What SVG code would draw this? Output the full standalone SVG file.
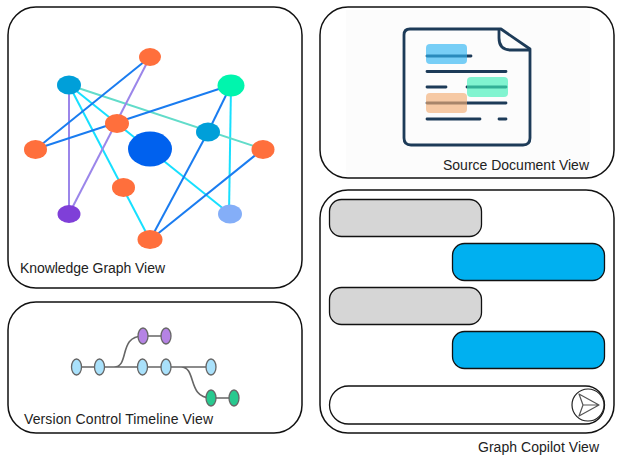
<svg xmlns="http://www.w3.org/2000/svg" width="624" height="460" viewBox="0 0 624 460">
<style>
.panel{fill:#fff;stroke:#111;stroke-width:1.5}
.lbl{font-family:"Liberation Sans",Arial,sans-serif;font-size:14px;fill:#222}
.e{fill:none;stroke-width:2}
.b{stroke:#1a7cf0}.p{stroke:#9b86ea}.c{stroke:#17e0ff}.t{stroke:#62dcca}
.o{fill:#ff6f3c}
.doc{fill:none;stroke:#1d3b58;stroke-width:2.8;stroke-linecap:round;stroke-linejoin:round}
.tl{fill:none;stroke:#666;stroke-width:1.6}
.cm{stroke:#666;stroke-width:1.3}
.lb{fill:#a9e1fb}.pu{fill:#b583e4}.gr{fill:#28c98f}
.bub{stroke:#111;stroke-width:1.3}
</style>
<rect width="624" height="460" fill="#fff"/>
<g id="panels">
<rect id="knowledge-graph-panel" class="panel" x="8" y="7" width="294" height="281" rx="28"/>
<rect id="version-timeline-panel" class="panel" x="8" y="302" width="294" height="131" rx="28"/>
</g>
<g id="connectors">
<line class="e c" x1="69" y1="85" x2="230" y2="214"/>
<line class="e c" x1="69" y1="85" x2="150" y2="240"/>
<line class="e c" x1="231" y1="85" x2="229" y2="214"/>
<line class="e t" x1="69" y1="85" x2="263" y2="149"/>
<line class="e p" x1="69" y1="85" x2="69" y2="214"/>
<line class="e p" x1="150" y1="57" x2="69" y2="214"/>
<line class="e b" x1="150" y1="57" x2="36" y2="149"/>
<line class="e b" x1="36" y1="149" x2="231" y2="85"/>
<line class="e b" x1="231" y1="85" x2="208" y2="132"/>
<line class="e b" x1="208" y1="132" x2="150" y2="240"/>
<line class="e b" x1="263" y1="149" x2="150" y2="240"/>
<path class="tl" d="M76.500 367H211M114 367C130 367 118 336 143 336H166M181 367C197 367 187 398 211 398H234"/>
</g>
<g id="kg-nodes">
<ellipse id="n1" class="o" cx="150" cy="57" rx="11" ry="9"/>
<ellipse id="n2" cx="69" cy="85" rx="12" ry="9.500" fill="#009fd9"/>
<ellipse id="n3" cx="231" cy="85.500" rx="13.500" ry="11" fill="#00f5ad"/>
<ellipse id="n4" class="o" cx="117" cy="123.500" rx="12" ry="9.500"/>
<ellipse id="n5" cx="150" cy="149" rx="22" ry="17.500" fill="#0061ee"/>
<ellipse id="n6" cx="208" cy="132" rx="12" ry="9.500" fill="#009fd9"/>
<ellipse id="n7" class="o" cx="35.500" cy="149.500" rx="11.500" ry="9.500"/>
<ellipse id="n8" class="o" cx="263" cy="149.500" rx="11.500" ry="9.500"/>
<ellipse id="n9" class="o" cx="123.500" cy="187.500" rx="11.500" ry="9.500"/>
<ellipse id="n10" cx="69" cy="214" rx="11.500" ry="9" fill="#7f3fd8"/>
<ellipse id="n11" cx="230" cy="214" rx="12" ry="9.500" fill="#84aef8"/>
<ellipse id="n12" class="o" cx="150" cy="239.500" rx="12.500" ry="9.500"/>
<text class="lbl" x="20" y="273" textLength="145">Knowledge Graph View</text>
</g>
<g id="source-document-panel">
<rect class="panel" x="320" y="7" width="294" height="171" rx="28"/>
<rect x="346" y="10" width="244" height="166" fill="#fcfcfc"/>
<path class="doc" d="M410 29H501L530 49V138Q530 145 523 145H411Q404 145 404 138V35Q404 29 410 29Z"/>
<path class="doc" d="M499 30V38Q499 50 511 50H529"/>
<path class="doc" d="M427 56H471M427 71.500H506M427 87H446M467 87H506M427 103H506M427 119H480M499 119H506"/>
<rect x="426" y="44" width="41" height="20" rx="4" fill="#2fb5f2" opacity=".65"/>
<rect x="467" y="77" width="41" height="20" rx="4" fill="#3ff0b8" opacity=".65"/>
<rect x="426" y="93" width="41" height="20" rx="4" fill="#f2ad74" opacity=".65"/>
<text class="lbl" x="443" y="170" textLength="146">Source Document View</text>
</g>
<g id="version-timeline-nodes">
<g class="cm">
<ellipse class="lb" cx="76.500" cy="367" rx="5" ry="8"/>
<ellipse class="lb" cx="99.500" cy="367" rx="5" ry="8"/>
<ellipse class="lb" cx="142.500" cy="367" rx="5" ry="8"/>
<ellipse class="lb" cx="166" cy="367" rx="5" ry="8"/>
<ellipse class="lb" cx="211" cy="367" rx="5" ry="8"/>
<ellipse class="pu" cx="143" cy="336" rx="5" ry="8"/>
<ellipse class="pu" cx="166" cy="336" rx="5" ry="8"/>
<ellipse class="gr" cx="211" cy="398" rx="5" ry="8"/>
<ellipse class="gr" cx="234" cy="398" rx="5" ry="8"/>
</g>
<text class="lbl" x="24" y="424" textLength="189">Version Control Timeline View</text>
</g>
<g id="graph-copilot-panel">
<rect class="panel" x="320" y="190" width="294" height="243" rx="28"/>
<rect class="bub" x="329.500" y="199.500" width="152" height="37" rx="12" fill="#d6d6d6"/>
<rect class="bub" x="452.500" y="243.500" width="152" height="37" rx="12" fill="#00b0f0"/>
<rect class="bub" x="329.500" y="287.500" width="152" height="37" rx="12" fill="#d6d6d6"/>
<rect class="bub" x="452.500" y="331.500" width="152" height="37" rx="12" fill="#00b0f0"/>
<rect class="bub" x="329.500" y="386" width="275" height="38" rx="19" fill="#fff"/>
<circle cx="588" cy="405" r="16" fill="#fff" stroke="#222" stroke-width="1.200"/>
<path d="M579 394L599 405L579 416L583 405ZM583 405H599" fill="none" stroke="#555" stroke-width="1.200" stroke-linejoin="round"/>
<text class="lbl" x="478" y="452" textLength="121">Graph Copilot View</text>
</g>
</svg>
